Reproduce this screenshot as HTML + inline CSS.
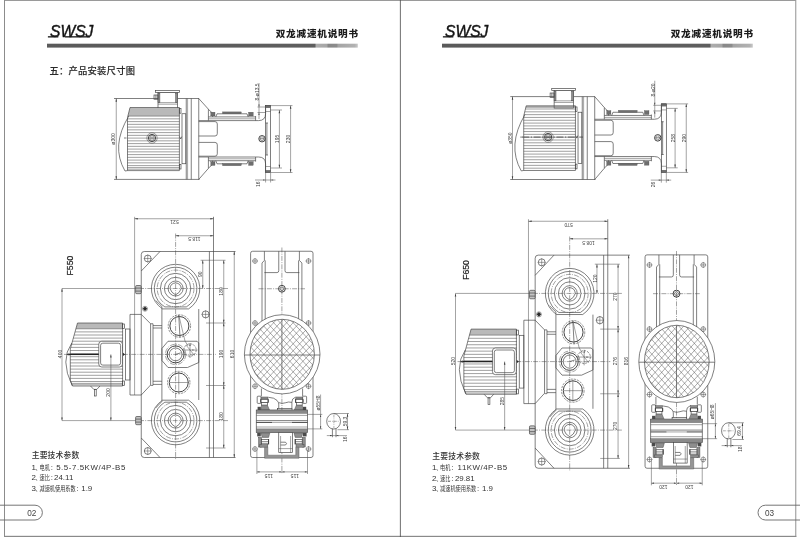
<!DOCTYPE html>
<html lang="zh-CN">
<head>
<meta charset="utf-8">
<title>双龙减速机说明书</title>
<style>
html,body{margin:0;padding:0;background:#fff}
body{width:800px;height:537px;overflow:hidden;font-family:"Liberation Sans","Noto Sans CJK SC",sans-serif}
svg{display:block;filter:grayscale(1) blur(.3px)}
.l{fill:none;stroke:#444;stroke-width:.68}
.lw{fill:none;stroke:#3a3a3a;stroke-width:.95}
.lf{fill:#fff;stroke:#444;stroke-width:.68}
.t{fill:none;stroke:#505050;stroke-width:.52}
.c{fill:none;stroke:#484848;stroke-width:.5;stroke-dasharray:5 1.2 1 1.2}
.cm{fill:none;stroke:#3a3a3a;stroke-width:.8;stroke-dasharray:7 1.6 1.2 1.6}
.c2{fill:none;stroke:#484848;stroke-width:.45;stroke-dasharray:3 1 .8 1}
.d{fill:none;stroke:#444;stroke-width:.6;stroke-dasharray:2.2 1}
.m{fill:none;stroke:#585858;stroke-width:.5}
.fin{fill:none;stroke:#646464;stroke-width:.62}
.sh{fill:none;stroke:#222;stroke-width:1.3}
.ub{fill:#959595;stroke:#5a5a5a;stroke-width:.5}
.a{fill:#3c3c3c;stroke:none}
.k{fill:#2a2a2a;stroke:none}
.k2{fill:#6e6e6e;stroke:#444;stroke-width:.3}
.kh{fill:#8a8a8a;stroke:#555;stroke-width:.4}
.k3{fill:#808080;stroke:#444;stroke-width:.5}
.k4{fill:#8e8e8e;stroke:#4c4c4c;stroke-width:.5}
.k6{fill:#4a4a4a;stroke:none}
.k5{fill:#c4c4c4;stroke:none}
.g1{fill:#b9b9b9;stroke:none}
.pill{fill:none;stroke:#666;stroke-width:.9}
text{font-family:"Liberation Sans","Noto Sans CJK SC",sans-serif;fill:#222}
.dt{fill:#444;font-family:"Liberation Sans",sans-serif}
.logo{font-size:17.4px;font-style:italic;font-weight:400;fill:#141414;stroke:#141414;stroke-width:.45}
.ttl{font-size:9.6px;font-weight:900;fill:#1c1c1c}
.sec{font-size:9.3px;font-weight:500;fill:#2a2a2a;stroke:#2a2a2a;stroke-width:.12}
text.sh{font-size:7.8px;font-weight:500;fill:#333;stroke:none}
.sp{fill:#333}
.la{font-size:7.9px}
.cn{font-size:6.3px}
.lat{letter-spacing:.62px}
.pn{font-size:8.2px;fill:#444}
.fm{font-size:8.6px;fill:#222;font-weight:500;stroke:#222;stroke-width:.2}
</style>
</head>
<body>
<svg width="800" height="537" viewBox="0 0 800 537">
<defs><linearGradient id="bar" x1="0" x2="1" y1="0" y2="0"><stop offset="0" stop-color="#5a5a5a"/><stop offset="0.862" stop-color="#5e5e5e"/><stop offset="0.866" stop-color="#adadad"/><stop offset="0.9" stop-color="#a6a6a6"/><stop offset="0.905" stop-color="#888"/><stop offset="0.932" stop-color="#8c8c8c"/><stop offset="0.937" stop-color="#a4a4a4"/><stop offset="0.99" stop-color="#b2b2b2"/><stop offset="1" stop-color="#c8c8c8"/></linearGradient></defs>
<rect width="800" height="537" fill="#fff"/>
<rect x="4" y="0" width="792" height="1" fill="#9a9a9a"/>
<rect x="4" y="0" width="1" height="537" fill="#8c8c8c"/>
<rect x="795.2" y="0" width="1.1" height="537" fill="#9c9c9c"/>
<rect x="4" y="535.8" width="792.3" height="1.2" fill="#8a8a8a"/>
<rect x="399.9" y="0" width="0.8" height="537" fill="#4a4a4a"/>
<path class="pill" d="M0 505.2 L35 505.2 A7.4 7.4 0 0 1 35 520 L0 520"/>
<path class="pill" d="M800 505.2 L765.4 505.2 A7.4 7.4 0 0 0 765.4 520 L800 520"/>
<text class="pn" x="31.8" y="515.6" text-anchor="middle">02</text>
<text class="pn" x="769.6" y="515.6" text-anchor="middle">03</text>
<text class="logo" x="50" y="37" textLength="43.4" lengthAdjust="spacingAndGlyphs">SWSJ</text>
<rect x="47.9" y="36.2" width="10.4" height="1.3" fill="#161616"/>
<rect x="65" y="36.2" width="25" height="1.3" fill="#161616"/>
<rect x="47" y="43.7" width="310.8" height="3.9" fill="url(#bar)"/>
<text class="ttl" x="275.7" y="37.4" textLength="82.4" lengthAdjust="spacing">双龙减速机说明书</text>
<text class="logo" x="445" y="37" textLength="43.4" lengthAdjust="spacingAndGlyphs">SWSJ</text>
<rect x="442.9" y="36.2" width="10.4" height="1.3" fill="#161616"/>
<rect x="460" y="36.2" width="25" height="1.3" fill="#161616"/>
<rect x="442" y="43.7" width="310.8" height="3.9" fill="url(#bar)"/>
<text class="ttl" x="670.7" y="37.4" textLength="82.4" lengthAdjust="spacing">双龙减速机说明书</text>
<text class="sec" x="49.4" y="74.4" textLength="85.6" lengthAdjust="spacing">五：产品安装尺寸图</text>
<text class="sh" x="31.7" y="458.1" textLength="47.6" lengthAdjust="spacing">主要技术参数</text>
<text class="sp" y="469.7"><tspan class="la" x="31.5">1</tspan><tspan class="cn" x="35.3">、</tspan><tspan class="cn" x="39.5" textLength="10.32" lengthAdjust="spacingAndGlyphs">电机</tspan><tspan class="la" x="50.72">:</tspan><tspan class="la" letter-spacing="0.55" x="53.45"> 5.5-7.5KW/4P-B5</tspan></text>
<text class="sp" y="480.12"><tspan class="la" x="31.5">2</tspan><tspan class="cn" x="35.3">、</tspan><tspan class="cn" x="39.5" textLength="10.32" lengthAdjust="spacingAndGlyphs">速比</tspan><tspan class="la" x="50.72">:</tspan><tspan class="la" letter-spacing="0.05" x="51.75"> 24.11</tspan></text>
<text class="sp" y="490.54"><tspan class="la" x="31.5">3</tspan><tspan class="cn" x="35.3">、</tspan><tspan class="cn" x="39.5" textLength="36.12" lengthAdjust="spacingAndGlyphs">减速机使用系数</tspan><tspan class="la" x="76.52">:</tspan><tspan class="la" letter-spacing="0" x="79.1"> 1.9</tspan></text>
<text class="sh" x="432.3" y="458.7" textLength="47.6" lengthAdjust="spacing">主要技术参数</text>
<text class="sp" y="470.3"><tspan class="la" x="432.1">1</tspan><tspan class="cn" x="435.9">、</tspan><tspan class="cn" x="440.1" textLength="10.32" lengthAdjust="spacingAndGlyphs">电机</tspan><tspan class="la" x="451.32">:</tspan><tspan class="la" letter-spacing="0.5" x="454.9"> 11KW/4P-B5</tspan></text>
<text class="sp" y="480.72"><tspan class="la" x="432.1">2</tspan><tspan class="cn" x="435.9">、</tspan><tspan class="cn" x="440.1" textLength="10.32" lengthAdjust="spacingAndGlyphs">速比</tspan><tspan class="la" x="451.32">:</tspan><tspan class="la" letter-spacing="0" x="452.7"> 29.81</tspan></text>
<text class="sp" y="491.14"><tspan class="la" x="432.1">3</tspan><tspan class="cn" x="435.9">、</tspan><tspan class="cn" x="440.1" textLength="36.12" lengthAdjust="spacingAndGlyphs">减速机使用系数</tspan><tspan class="la" x="477.12">:</tspan><tspan class="la" letter-spacing="0" x="479.7"> 1.9</tspan></text>
<text class="fm" transform="translate(73.2 265.6) rotate(-90)" text-anchor="middle">F550</text>
<text class="fm" transform="translate(468.6 270) rotate(-90)" text-anchor="middle">F650</text>
<line class="l" x1="114" y1="98.5" x2="199" y2="98.5"/>
<line class="l" x1="114" y1="179.4" x2="199.5" y2="179.4"/>
<line class="t" x1="116.25" y1="98.5" x2="116.25" y2="179.4"/>
<path class="a" d="M116.25 98.5 L115.5 101.7 L117 101.7 Z"/>
<path class="a" d="M116.25 179.4 L115.5 176.2 L117 176.2 Z"/>
<text class="dt" font-size="6.2" transform="translate(113.2 139) rotate(-90)" x="-5.65" textLength="11.3" lengthAdjust="spacingAndGlyphs" dy="0.35em">ø300</text>
<rect class="l" x="155.6" y="90.6" width="23.8" height="1.9"/>
<rect class="lf" x="158" y="92.5" width="19.5" height="17.2"/>
<rect class="k4" x="158" y="93.2" width="1.9" height="9.4"/>
<rect class="k4" x="175.6" y="93.2" width="1.9" height="9.4"/>
<line class="t" x1="158" y1="102.6" x2="177.5" y2="102.6"/>
<line class="t" x1="158" y1="104.2" x2="177.5" y2="104.2"/>
<rect class="l" x="154" y="95" width="4" height="4.2"/>
<line class="t" x1="155.4" y1="95" x2="155.4" y2="99.2"/>
<line class="t" x1="156.8" y1="95" x2="156.8" y2="99.2"/>
<clipPath id="mca"><path d="M130 107.5 L179.4 107.5 L179.4 170.6 L127.5 170.6 L127.5 117.5Z"/></clipPath>
<g clip-path="url(#mca)">
<rect class="g1" x="126" y="107.5" width="55" height="8.6"/>
<line class="fin" x1="126" y1="167.6" x2="180" y2="167.6"/>
<line class="fin" x1="126" y1="169.2" x2="180" y2="169.2"/>
<line class="fin" x1="126" y1="116.1" x2="180" y2="116.1"/>
<line class="fin" x1="126" y1="118.85" x2="180" y2="118.85"/>
<line class="fin" x1="126" y1="121.6" x2="180" y2="121.6"/>
<line class="fin" x1="126" y1="124.35" x2="180" y2="124.35"/>
<line class="fin" x1="126" y1="127.1" x2="180" y2="127.1"/>
<line class="fin" x1="126" y1="129.85" x2="180" y2="129.85"/>
<line class="fin" x1="126" y1="132.6" x2="180" y2="132.6"/>
<line class="fin" x1="126" y1="135.35" x2="180" y2="135.35"/>
<line class="fin" x1="126" y1="138.1" x2="180" y2="138.1"/>
<line class="fin" x1="126" y1="140.85" x2="180" y2="140.85"/>
<line class="fin" x1="126" y1="143.6" x2="180" y2="143.6"/>
<line class="fin" x1="126" y1="146.35" x2="180" y2="146.35"/>
<line class="fin" x1="126" y1="149.1" x2="180" y2="149.1"/>
<line class="fin" x1="126" y1="151.85" x2="180" y2="151.85"/>
<line class="fin" x1="126" y1="154.6" x2="180" y2="154.6"/>
<line class="fin" x1="126" y1="157.35" x2="180" y2="157.35"/>
<line class="fin" x1="126" y1="160.1" x2="180" y2="160.1"/>
<line class="fin" x1="126" y1="162.85" x2="180" y2="162.85"/>
<line class="fin" x1="126" y1="165.6" x2="180" y2="165.6"/>
</g>
<path class="l" d="M130 107.5 L179.4 107.5 L179.4 170.6 L127.5 170.6 L127.5 117.5Z"/>
<path class="l" d="M 128.8 116 Q 110.5 146 125 171"/>
<line class="l" x1="125" y1="171" x2="127.5" y2="170.6"/>
<ellipse class="t" cx="152" cy="138" rx="5.2" ry="5.2"/>
<ellipse class="lw" cx="152" cy="138" rx="3.6" ry="3.6"/>
<ellipse class="t" cx="152" cy="138" rx="2.2" ry="2.2"/>
<line class="l" x1="150.5" y1="138" x2="153.5" y2="138"/>
<line class="l" x1="124" y1="138" x2="126.5" y2="138"/>
<rect class="l" x="179.4" y="108.6" width="1.6" height="4.6"/>
<rect class="l" x="179.4" y="164.4" width="1.6" height="4.6"/>
<rect class="l" x="182" y="113.75" width="3.8" height="50"/>
<path class="l" d="M179.6 136.6 L180.7 139 L181.8 136.6"/>
<line class="l" x1="186.25" y1="98.5" x2="186.25" y2="179.4"/>
<line class="t" x1="187.6" y1="98.5" x2="187.6" y2="179.4"/>
<line class="l" x1="191.25" y1="98.5" x2="191.25" y2="179.4"/>
<line class="l" x1="198.75" y1="98.5" x2="198.75" y2="179.4"/>
<path class="l" d="M198.75 98.5 L208.4 109.2 L208.4 120.6"/>
<path class="l" d="M198.75 179.4 L208.4 168.4 L208.4 157"/>
<path class="l" d="M 198.75 120.6 L 258.5 120.6 Q 265.6 120.6 265.6 113.5 L 265.6 105.6"/>
<path class="l" d="M 198.75 157 L 258.5 157 Q 265.6 157 265.6 164 L 265.6 172.5"/>
<path class="l" d="M 198.75 121.6 L 215 121.6 Q 217.3 121.6 217.3 124 L 217.3 133.6 Q 217.3 136 215 136 L 198.75 136"/>
<path class="l" d="M 198.75 142.4 L 215 142.4 Q 217.3 142.4 217.3 144.8 L 217.3 153.8 Q 217.3 156.2 215 156.2 L 198.75 156.2"/>
<line class="l" x1="208.4" y1="116.9" x2="255.6" y2="116.9"/>
<line class="l" x1="255.6" y1="116" x2="255.6" y2="120.6"/>
<line class="l" x1="217" y1="113.8" x2="247" y2="113.8"/>
<path class="l" d="M208.4 109.4 L212.6 113.2 L212.6 116.9"/>
<path class="l" d="M217 113.8 L215.8 116.9"/>
<path class="l" d="M247 113.8 L248.2 116.9"/>
<rect class="k2" x="222.5" y="111.9" width="18.8" height="1.9"/>
<rect class="k2" x="210.8" y="112.2" width="4.2" height="3.8"/>
<rect class="k2" x="248.6" y="112.2" width="4.6" height="3.8"/>
<line class="t" x1="208.4" y1="118.8" x2="255.6" y2="118.8"/>
<line class="l" x1="208.4" y1="160.7" x2="255.6" y2="160.7"/>
<line class="l" x1="255.6" y1="161.6" x2="255.6" y2="157"/>
<line class="l" x1="217" y1="163.8" x2="247" y2="163.8"/>
<path class="l" d="M208.4 168.2 L212.6 164.4 L212.6 160.7"/>
<path class="l" d="M217 163.8 L215.8 160.7"/>
<path class="l" d="M247 163.8 L248.2 160.7"/>
<rect class="k2" x="222.5" y="163.8" width="18.8" height="1.9"/>
<rect class="k2" x="210.8" y="161.6" width="4.2" height="3.8"/>
<rect class="k2" x="248.6" y="161.6" width="4.6" height="3.8"/>
<line class="t" x1="208.4" y1="158.8" x2="255.6" y2="158.8"/>
<rect class="l" x="265.6" y="105.6" width="5" height="66.9"/>
<rect class="k2" x="265.6" y="105.6" width="5" height="2.2"/>
<rect class="k2" x="265.6" y="170.3" width="5" height="2.2"/>
<line class="l" x1="266.9" y1="123" x2="266.9" y2="155"/>
<line class="l" x1="265.6" y1="123" x2="268" y2="123"/>
<line class="l" x1="265.6" y1="155" x2="268" y2="155"/>
<line class="t" x1="265.6" y1="111.5" x2="270.6" y2="111.5"/>
<line class="t" x1="265.6" y1="166.5" x2="270.6" y2="166.5"/>
<ellipse class="lw" cx="262" cy="138.75" rx="3.2" ry="3.2"/>
<ellipse class="t" cx="262" cy="138.75" rx="1.9" ry="1.9"/>
<line class="l" x1="259.6" y1="138.75" x2="264.4" y2="138.75"/>
<line class="t" x1="259" y1="83" x2="259" y2="119"/>
<path class="a" d="M259 107 L258.4 104.4 L259.6 104.4 Z"/>
<path class="a" d="M259 112.5 L258.4 115.1 L259.6 115.1 Z"/>
<line class="t" x1="257.5" y1="107" x2="266" y2="107"/>
<line class="t" x1="257.5" y1="112.5" x2="266" y2="112.5"/>
<text class="dt" font-size="6.2" transform="translate(256.6 92) rotate(-90)" x="-8.55" textLength="17.09" lengthAdjust="spacingAndGlyphs" dy="0.35em">8-ø13.5</text>
<line class="t" x1="270.6" y1="110" x2="282" y2="110"/>
<line class="t" x1="270.6" y1="168" x2="282" y2="168"/>
<line class="t" x1="279.4" y1="110" x2="279.4" y2="168"/>
<path class="a" d="M279.4 110 L278.65 113.2 L280.15 113.2 Z"/>
<path class="a" d="M279.4 168 L278.65 164.8 L280.15 164.8 Z"/>
<text class="dt" font-size="6.2" transform="translate(277 139) rotate(-90)" x="-4.14" textLength="8.27" lengthAdjust="spacingAndGlyphs" dy="0.35em">195</text>
<line class="t" x1="265.6" y1="105.6" x2="292.5" y2="105.6"/>
<line class="t" x1="270.6" y1="172.5" x2="292.5" y2="172.5"/>
<line class="t" x1="290.6" y1="105.6" x2="290.6" y2="172.5"/>
<path class="a" d="M290.6 105.6 L289.85 108.8 L291.35 108.8 Z"/>
<path class="a" d="M290.6 172.5 L289.85 169.3 L291.35 169.3 Z"/>
<text class="dt" font-size="6.2" transform="translate(288.2 139) rotate(-90)" x="-4.14" textLength="8.27" lengthAdjust="spacingAndGlyphs" dy="0.35em">230</text>
<line class="t" x1="265.6" y1="172.5" x2="265.6" y2="182.5"/>
<line class="t" x1="270.6" y1="172.5" x2="270.6" y2="182.5"/>
<line class="t" x1="255" y1="180" x2="275.5" y2="180"/>
<path class="a" d="M265.6 180 L263 179.4 L263 180.6 Z"/>
<path class="a" d="M270.6 180 L273.2 179.4 L273.2 180.6 Z"/>
<text class="dt" font-size="6.2" transform="translate(257.5 184.2) rotate(-90)" x="-2.76" textLength="5.52" lengthAdjust="spacingAndGlyphs" dy="0.35em">16</text>
<line class="t" x1="134.6" y1="216.8" x2="134.6" y2="395"/>
<line class="l" x1="213.5" y1="216.8" x2="213.5" y2="457.5"/>
<line class="t" x1="134.6" y1="218.75" x2="213.5" y2="218.75"/>
<path class="a" d="M134.6 218.75 L137.8 218 L137.8 219.5 Z"/>
<path class="a" d="M213.5 218.75 L210.3 218 L210.3 219.5 Z"/>
<text class="dt" font-size="6.2" transform="translate(174.5 222.6) rotate(180)" x="-4.14" textLength="8.27" lengthAdjust="spacingAndGlyphs" dy="0.35em">521</text>
<line class="c" x1="175.6" y1="233.5" x2="175.6" y2="459.5"/>
<line class="t" x1="175.6" y1="235.75" x2="213.5" y2="235.75"/>
<path class="a" d="M175.6 235.75 L178.8 235 L178.8 236.5 Z"/>
<path class="a" d="M213.5 235.75 L210.3 235 L210.3 236.5 Z"/>
<text class="dt" font-size="6.2" transform="translate(194.3 239.6) rotate(180)" x="-6.2" textLength="12.41" lengthAdjust="spacingAndGlyphs" dy="0.35em">118.5</text>
<path class="l" d="M 235.5 251.5 L 144.25 251.5 Q 141.25 251.5 141.25 254.5 L 141.25 454.5 Q 141.25 457.5 144.25 457.5 L 235.5 457.5"/>
<line class="l" x1="209.4" y1="251.5" x2="209.4" y2="457.5"/>
<line class="l" x1="198.75" y1="309" x2="198.75" y2="400"/>
<line class="l" x1="141.25" y1="271" x2="160" y2="251.5"/>
<line class="l" x1="141.25" y1="438" x2="160" y2="457.5"/>
<ellipse class="l" cx="147.75" cy="258.5" rx="3.4" ry="3.4"/>
<line class="t" x1="143.85" y1="258.5" x2="151.65" y2="258.5"/>
<line class="t" x1="147.75" y1="254.6" x2="147.75" y2="262.4"/>
<ellipse class="l" cx="147.75" cy="451" rx="3.4" ry="3.4"/>
<line class="t" x1="143.85" y1="451" x2="151.65" y2="451"/>
<line class="t" x1="147.75" y1="447.1" x2="147.75" y2="454.9"/>
<ellipse class="l" cx="205.6" cy="314.4" rx="3.5" ry="3.5"/>
<line class="t" x1="201.6" y1="314.4" x2="209.6" y2="314.4"/>
<line class="t" x1="205.6" y1="310.4" x2="205.6" y2="318.4"/>
<line class="t" x1="234.25" y1="251.5" x2="234.25" y2="457.5"/>
<path class="a" d="M234.25 251.5 L233.5 254.7 L235 254.7 Z"/>
<path class="a" d="M234.25 457.5 L233.5 454.3 L235 454.3 Z"/>
<text class="dt" font-size="6.2" transform="translate(231.6 354) rotate(-90)" x="-4.14" textLength="8.27" lengthAdjust="spacingAndGlyphs" dy="0.35em">610</text>
<line class="t" x1="200.6" y1="260.25" x2="225.5" y2="260.25"/>
<line class="t" x1="206" y1="323" x2="225.5" y2="323"/>
<line class="t" x1="206" y1="385.5" x2="225.5" y2="385.5"/>
<line class="t" x1="206" y1="448" x2="225.5" y2="448"/>
<line class="t" x1="223.75" y1="260.25" x2="223.75" y2="448"/>
<path class="a" d="M223.75 260.25 L223 263.45 L224.5 263.45 Z"/>
<path class="a" d="M223.75 323 L223 319.8 L224.5 319.8 Z"/>
<path class="a" d="M223.75 323 L223 326.2 L224.5 326.2 Z"/>
<path class="a" d="M223.75 385.5 L223 382.3 L224.5 382.3 Z"/>
<path class="a" d="M223.75 385.5 L223 388.7 L224.5 388.7 Z"/>
<path class="a" d="M223.75 448 L223 444.8 L224.5 444.8 Z"/>
<text class="dt" font-size="6.2" transform="translate(220.8 291.5) rotate(-90)" x="-4.14" textLength="8.27" lengthAdjust="spacingAndGlyphs" dy="0.35em">180</text>
<text class="dt" font-size="6.2" transform="translate(220.8 354) rotate(-90)" x="-4.14" textLength="8.27" lengthAdjust="spacingAndGlyphs" dy="0.35em">190</text>
<text class="dt" font-size="6.2" transform="translate(220.8 416.5) rotate(-90)" x="-4.14" textLength="8.27" lengthAdjust="spacingAndGlyphs" dy="0.35em">180</text>
<line class="t" x1="202.75" y1="260.25" x2="202.75" y2="288.5"/>
<path class="a" d="M202.75 260.25 L202 263.45 L203.5 263.45 Z"/>
<path class="a" d="M202.75 288.5 L202 285.3 L203.5 285.3 Z"/>
<text class="dt" font-size="6.2" transform="translate(200.2 274.2) rotate(-90)" x="-2.76" textLength="5.52" lengthAdjust="spacingAndGlyphs" dy="0.35em">90</text>
<line class="t" x1="62" y1="288.5" x2="136" y2="288.5"/>
<line class="c" x1="139" y1="288.5" x2="228" y2="288.5"/>
<line class="t" x1="62" y1="420.6" x2="136" y2="420.6"/>
<line class="c" x1="139" y1="420.6" x2="228" y2="420.6"/>
<line class="c" x1="64" y1="354.4" x2="216" y2="354.4"/>
<line class="t" x1="62" y1="288.5" x2="62" y2="420.6"/>
<path class="a" d="M62 288.5 L61.25 291.7 L62.75 291.7 Z"/>
<path class="a" d="M62 420.6 L61.25 417.4 L62.75 417.4 Z"/>
<text class="dt" font-size="6.2" transform="translate(59.4 354) rotate(-90)" x="-4.14" textLength="8.27" lengthAdjust="spacingAndGlyphs" dy="0.35em">400</text>
<path class="l" d="M 162.58 308.9 A 24.2 24.2 0 1 1 188.62 308.9 Z"/>
<path class="l" d="M 164.87 306.9 A 21.3 21.3 0 1 1 186.33 306.9 Z"/>
<ellipse class="c" cx="175.6" cy="288.5" rx="18.4" ry="18.4"/>
<ellipse class="l" cx="175.6" cy="288.5" rx="15.2" ry="15.2"/>
<ellipse class="l" cx="175.6" cy="288.5" rx="11.2" ry="11.2"/>
<ellipse class="l" cx="175.6" cy="288.5" rx="7.5" ry="7.5"/>
<path class="l" d="M 170 288.5 Q 170.4 283.3 175.6 282.9 Q 180.8 283.3 181.2 288.5 Q 180 292.9 175.6 294.9 Q 171.2 292.9 170 288.5 Z"/>
<path class="l" d="M 162.58 400.2 A 24.2 24.2 0 1 0 188.62 400.2 Z"/>
<path class="l" d="M 164.87 402.2 A 21.3 21.3 0 1 0 186.33 402.2 Z"/>
<ellipse class="c" cx="175.6" cy="420.6" rx="18.4" ry="18.4"/>
<ellipse class="l" cx="175.6" cy="420.6" rx="15.2" ry="15.2"/>
<ellipse class="l" cx="175.6" cy="420.6" rx="11.2" ry="11.2"/>
<ellipse class="l" cx="175.6" cy="420.6" rx="7.5" ry="7.5"/>
<path class="l" d="M 170 420.6 Q 170.4 415.4 175.6 415 Q 180.8 415.4 181.2 420.6 Q 180 425 175.6 427 Q 171.2 425 170 420.6 Z"/>
<rect class="k5" x="135.6" y="285.5" width="5.6" height="8.2"/>
<line class="l" x1="135.6" y1="288.1" x2="141.2" y2="288.1"/>
<line class="l" x1="135.6" y1="291.1" x2="141.2" y2="291.1"/>
<rect class="l" x="135.6" y="285.5" width="5.6" height="8.2" rx="1.2"/>
<rect class="k5" x="135.6" y="416.5" width="5.6" height="8.2"/>
<line class="l" x1="135.6" y1="419.1" x2="141.2" y2="419.1"/>
<line class="l" x1="135.6" y1="422.1" x2="141.2" y2="422.1"/>
<rect class="l" x="135.6" y="416.5" width="5.6" height="8.2" rx="1.2"/>
<ellipse class="t" cx="145" cy="308.75" rx="2.5" ry="2.5"/>
<path class="k" d="M145 306.4 L147.3 308.75 L145 311.1 L142.7 308.75Z"/>
<path class="l" d="M155.6 300.5 L161.9 306.5 L161.9 401.5 L155.6 408"/>
<path class="l" d="M141.25 314.4 L130 314.4 L130 395 L141.25 395"/>
<path class="l" d="M141.25 314.4 L150.6 323.75 L150.6 385 L141.25 395"/>
<line class="l" x1="153" y1="323.75" x2="153" y2="385.4"/>
<line class="l" x1="150.6" y1="323.75" x2="153" y2="323.75"/>
<line class="l" x1="150.6" y1="385.4" x2="153" y2="385.4"/>
<line class="l" x1="153" y1="325.6" x2="161.9" y2="325.6"/>
<line class="l" x1="153" y1="328" x2="161.9" y2="328"/>
<line class="l" x1="153" y1="381.25" x2="161.9" y2="381.25"/>
<line class="l" x1="153" y1="384.4" x2="161.9" y2="384.4"/>
<ellipse class="lw" cx="179.4" cy="326" rx="9.5" ry="9.5"/>
<ellipse class="d" cx="179.4" cy="326" rx="11.2" ry="11.2"/>
<line class="l" x1="178.75" y1="315" x2="180" y2="337.5"/>
<path class="t" d="M178.75 315 L185 341 L188 346"/>
<path class="l" d="M168 341.25 L197 341.25 L198.75 343 L198.75 362.5 L187.5 367.5 L168 367.5 L161.9 360.5 L161.9 348.5Z"/>
<ellipse class="c" cx="175.6" cy="354.4" rx="10.2" ry="10.2"/>
<ellipse class="lw" cx="175.6" cy="354.4" rx="8.5" ry="8.5"/>
<ellipse class="l" cx="175.6" cy="354.4" rx="6.4" ry="6.4"/>
<line class="l" x1="175.6" y1="354.4" x2="180.6" y2="352.9"/>
<ellipse class="d" cx="190" cy="350" rx="6.2" ry="6.2"/>
<line class="t" x1="182.5" y1="350" x2="197.5" y2="350"/>
<line class="t" x1="190" y1="343" x2="190" y2="358"/>
<line class="t" x1="186" y1="345" x2="194.5" y2="355.5"/>
<path class="a" d="M194.6 350 L192.2 349.4 L192.2 350.6 Z"/>
<path class="a" d="M190 343.6 L189.4 346 L190.6 346 Z"/>
<ellipse class="lw" cx="178.75" cy="382.5" rx="9.5" ry="9.5"/>
<ellipse class="d" cx="178.75" cy="382.5" rx="11.2" ry="11.2"/>
<line class="t" x1="170" y1="382.5" x2="189" y2="382.5"/>
<line class="t" x1="178.75" y1="372" x2="178.75" y2="393"/>
<clipPath id="fma"><path d="M77.5 323 L123 323 L123 386 L72.5 386 L70.3 380.5 L70.3 349Z"/></clipPath>
<g clip-path="url(#fma)">
<rect class="g1" x="68" y="323" width="58" height="5.8"/>
<line class="fin" x1="68" y1="383.4" x2="124" y2="383.4"/>
<line class="fin" x1="68" y1="384.8" x2="124" y2="384.8"/>
<line class="fin" x1="68" y1="328.8" x2="124" y2="328.8"/>
<line class="fin" x1="68" y1="331.9" x2="124" y2="331.9"/>
<line class="fin" x1="68" y1="335" x2="124" y2="335"/>
<line class="fin" x1="68" y1="338.1" x2="124" y2="338.1"/>
<line class="fin" x1="68" y1="341.2" x2="124" y2="341.2"/>
<line class="fin" x1="68" y1="344.3" x2="124" y2="344.3"/>
<line class="fin" x1="68" y1="347.4" x2="124" y2="347.4"/>
<line class="fin" x1="68" y1="350.5" x2="124" y2="350.5"/>
<line class="fin" x1="68" y1="353.6" x2="124" y2="353.6"/>
<line class="fin" x1="68" y1="356.7" x2="124" y2="356.7"/>
<line class="fin" x1="68" y1="359.8" x2="124" y2="359.8"/>
<line class="fin" x1="68" y1="362.9" x2="124" y2="362.9"/>
<line class="fin" x1="68" y1="366" x2="124" y2="366"/>
<line class="fin" x1="68" y1="369.1" x2="124" y2="369.1"/>
<line class="fin" x1="68" y1="372.2" x2="124" y2="372.2"/>
<line class="fin" x1="68" y1="375.3" x2="124" y2="375.3"/>
<line class="fin" x1="68" y1="378.4" x2="124" y2="378.4"/>
<line class="fin" x1="68" y1="381.5" x2="124" y2="381.5"/>
</g>
<path class="l" d="M77.5 323 L122.6 323 L122.6 386 L72.5 386 L70.3 380.5 L70.3 349Z"/>
<path class="l" d="M 71.8 343 Q 59.6 360 72.2 385.6"/>
<rect class="lf" x="98.75" y="341.25" width="23.75" height="25.75" rx="3"/>
<rect class="l" x="100.6" y="343.2" width="20" height="21.9" rx="2.2"/>
<line class="sh" x1="67.5" y1="354.4" x2="98.75" y2="354.4"/>
<path class="a" d="M66.4 354.4 L69.4 353.4 L69.4 355.4 Z"/>
<rect class="l" x="122.6" y="324" width="2" height="4.6"/>
<rect class="l" x="122.6" y="381" width="2" height="4.6"/>
<rect class="l" x="125.4" y="329" width="4.6" height="51"/>
<path class="k" d="M123 352.8 L125 354.4 L123 356Z"/>
<path class="l" d="M90.5 386 L93.8 389.4 L96.8 389.4 L100 386"/>
<rect class="l" x="94.4" y="389.4" width="1.8" height="6.6"/>
<line class="t" x1="110.9" y1="354.4" x2="110.9" y2="420.6"/>
<path class="a" d="M110.9 354.4 L110.15 357.6 L111.65 357.6 Z"/>
<path class="a" d="M110.9 420.6 L110.15 417.4 L111.65 417.4 Z"/>
<text class="dt" font-size="6.2" transform="translate(108.2 392.5) rotate(-90)" x="-4.14" textLength="8.27" lengthAdjust="spacingAndGlyphs" dy="0.35em">200</text>
<rect class="l" x="250.6" y="251.25" width="62.4" height="206.25" rx="2"/>
<ellipse class="t" cx="255" cy="261" rx="2.3" ry="2.3"/>
<line class="t" x1="252.1" y1="261" x2="257.9" y2="261"/>
<line class="t" x1="255" y1="258.1" x2="255" y2="263.9"/>
<ellipse class="t" cx="308.5" cy="261" rx="2.3" ry="2.3"/>
<line class="t" x1="305.6" y1="261" x2="311.4" y2="261"/>
<line class="t" x1="308.5" y1="258.1" x2="308.5" y2="263.9"/>
<ellipse class="t" cx="255" cy="323" rx="2.3" ry="2.3"/>
<line class="t" x1="252.1" y1="323" x2="257.9" y2="323"/>
<line class="t" x1="255" y1="320.1" x2="255" y2="325.9"/>
<ellipse class="t" cx="308.5" cy="323" rx="2.3" ry="2.3"/>
<line class="t" x1="305.6" y1="323" x2="311.4" y2="323"/>
<line class="t" x1="308.5" y1="320.1" x2="308.5" y2="325.9"/>
<ellipse class="t" cx="255" cy="386.25" rx="2.3" ry="2.3"/>
<line class="t" x1="252.1" y1="386.25" x2="257.9" y2="386.25"/>
<line class="t" x1="255" y1="383.35" x2="255" y2="389.15"/>
<ellipse class="t" cx="308.5" cy="386.25" rx="2.3" ry="2.3"/>
<line class="t" x1="305.6" y1="386.25" x2="311.4" y2="386.25"/>
<line class="t" x1="308.5" y1="383.35" x2="308.5" y2="389.15"/>
<ellipse class="t" cx="255" cy="449" rx="2.3" ry="2.3"/>
<line class="t" x1="252.1" y1="449" x2="257.9" y2="449"/>
<line class="t" x1="255" y1="446.1" x2="255" y2="451.9"/>
<ellipse class="t" cx="308.5" cy="449" rx="2.3" ry="2.3"/>
<line class="t" x1="305.6" y1="449" x2="311.4" y2="449"/>
<line class="t" x1="308.5" y1="446.1" x2="308.5" y2="451.9"/>
<line class="c" x1="281.9" y1="247.5" x2="281.9" y2="474"/>
<path class="l" d="M264.4 251.25 L264.4 260.4 L262 263 L262 323"/>
<path class="l" d="M299.4 251.25 L299.4 260.4 L301.9 263 L301.9 323"/>
<line class="l" x1="265.2" y1="260.4" x2="265.2" y2="320"/>
<line class="l" x1="298.6" y1="260.4" x2="298.6" y2="320"/>
<path class="l" d="M 264.4 272.6 L 277 272.6 Q 278.75 272.6 278.75 270.6 L 278.75 251.25"/>
<path class="l" d="M 299.4 272.6 L 286.8 272.6 Q 285 272.6 285 270.6 L 285 251.25"/>
<line class="c" x1="258.5" y1="288.75" x2="305" y2="288.75"/>
<ellipse class="lw" cx="281.9" cy="288.75" rx="3.4" ry="3.4"/>
<ellipse class="l" cx="281.9" cy="288.75" rx="1.8" ry="1.8"/>
<ellipse class="lf" cx="282.2" cy="354.3" rx="37.8" ry="39.6"/>
<clipPath id="mesha"><ellipse cx="282.2" cy="354.3" rx="32.2" ry="35"/></clipPath>
<g clip-path="url(#mesha)">
<line class="m" x1="152.4" y1="311.1" x2="232.4" y2="397.5"/>
<line class="m" x1="232.4" y1="311.1" x2="152.4" y2="397.5"/>
<line class="m" x1="158.9" y1="311.1" x2="238.9" y2="397.5"/>
<line class="m" x1="238.9" y1="311.1" x2="158.9" y2="397.5"/>
<line class="m" x1="165.4" y1="311.1" x2="245.4" y2="397.5"/>
<line class="m" x1="245.4" y1="311.1" x2="165.4" y2="397.5"/>
<line class="m" x1="171.9" y1="311.1" x2="251.9" y2="397.5"/>
<line class="m" x1="251.9" y1="311.1" x2="171.9" y2="397.5"/>
<line class="m" x1="178.4" y1="311.1" x2="258.4" y2="397.5"/>
<line class="m" x1="258.4" y1="311.1" x2="178.4" y2="397.5"/>
<line class="m" x1="184.9" y1="311.1" x2="264.9" y2="397.5"/>
<line class="m" x1="264.9" y1="311.1" x2="184.9" y2="397.5"/>
<line class="m" x1="191.4" y1="311.1" x2="271.4" y2="397.5"/>
<line class="m" x1="271.4" y1="311.1" x2="191.4" y2="397.5"/>
<line class="m" x1="197.9" y1="311.1" x2="277.9" y2="397.5"/>
<line class="m" x1="277.9" y1="311.1" x2="197.9" y2="397.5"/>
<line class="m" x1="204.4" y1="311.1" x2="284.4" y2="397.5"/>
<line class="m" x1="284.4" y1="311.1" x2="204.4" y2="397.5"/>
<line class="m" x1="210.9" y1="311.1" x2="290.9" y2="397.5"/>
<line class="m" x1="290.9" y1="311.1" x2="210.9" y2="397.5"/>
<line class="m" x1="217.4" y1="311.1" x2="297.4" y2="397.5"/>
<line class="m" x1="297.4" y1="311.1" x2="217.4" y2="397.5"/>
<line class="m" x1="223.9" y1="311.1" x2="303.9" y2="397.5"/>
<line class="m" x1="303.9" y1="311.1" x2="223.9" y2="397.5"/>
<line class="m" x1="230.4" y1="311.1" x2="310.4" y2="397.5"/>
<line class="m" x1="310.4" y1="311.1" x2="230.4" y2="397.5"/>
<line class="m" x1="236.9" y1="311.1" x2="316.9" y2="397.5"/>
<line class="m" x1="316.9" y1="311.1" x2="236.9" y2="397.5"/>
<line class="m" x1="243.4" y1="311.1" x2="323.4" y2="397.5"/>
<line class="m" x1="323.4" y1="311.1" x2="243.4" y2="397.5"/>
<line class="m" x1="249.9" y1="311.1" x2="329.9" y2="397.5"/>
<line class="m" x1="329.9" y1="311.1" x2="249.9" y2="397.5"/>
<line class="m" x1="256.4" y1="311.1" x2="336.4" y2="397.5"/>
<line class="m" x1="336.4" y1="311.1" x2="256.4" y2="397.5"/>
<line class="m" x1="262.9" y1="311.1" x2="342.9" y2="397.5"/>
<line class="m" x1="342.9" y1="311.1" x2="262.9" y2="397.5"/>
<line class="m" x1="269.4" y1="311.1" x2="349.4" y2="397.5"/>
<line class="m" x1="349.4" y1="311.1" x2="269.4" y2="397.5"/>
<line class="m" x1="275.9" y1="311.1" x2="355.9" y2="397.5"/>
<line class="m" x1="355.9" y1="311.1" x2="275.9" y2="397.5"/>
<line class="m" x1="282.4" y1="311.1" x2="362.4" y2="397.5"/>
<line class="m" x1="362.4" y1="311.1" x2="282.4" y2="397.5"/>
<line class="m" x1="288.9" y1="311.1" x2="368.9" y2="397.5"/>
<line class="m" x1="368.9" y1="311.1" x2="288.9" y2="397.5"/>
<line class="m" x1="295.4" y1="311.1" x2="375.4" y2="397.5"/>
<line class="m" x1="375.4" y1="311.1" x2="295.4" y2="397.5"/>
<line class="m" x1="301.9" y1="311.1" x2="381.9" y2="397.5"/>
<line class="m" x1="381.9" y1="311.1" x2="301.9" y2="397.5"/>
<line class="m" x1="308.4" y1="311.1" x2="388.4" y2="397.5"/>
<line class="m" x1="388.4" y1="311.1" x2="308.4" y2="397.5"/>
<line class="m" x1="314.9" y1="311.1" x2="394.9" y2="397.5"/>
<line class="m" x1="394.9" y1="311.1" x2="314.9" y2="397.5"/>
<line class="m" x1="321.4" y1="311.1" x2="401.4" y2="397.5"/>
<line class="m" x1="401.4" y1="311.1" x2="321.4" y2="397.5"/>
<line class="m" x1="327.9" y1="311.1" x2="407.9" y2="397.5"/>
<line class="m" x1="407.9" y1="311.1" x2="327.9" y2="397.5"/>
<line class="m" x1="334.4" y1="311.1" x2="414.4" y2="397.5"/>
<line class="m" x1="414.4" y1="311.1" x2="334.4" y2="397.5"/>
</g>
<ellipse class="l" cx="282.2" cy="354.3" rx="32.2" ry="35"/>
<line class="l" x1="244.4" y1="355" x2="320" y2="355"/>
<line class="l" x1="281.9" y1="319.4" x2="281.9" y2="389.4"/>
<line class="l" x1="261.4" y1="388.5" x2="261.4" y2="396"/>
<line class="l" x1="302.6" y1="388.5" x2="302.6" y2="396"/>
<path class="l" d="M 268.5 397.3 Q 274.5 397.6 277 400.4 Q 278.75 402.4 278.75 404 L 278.75 408.4"/>
<path class="l" d="M 295.3 397.3 Q 291.8 398.4 291.9 402 L 291.9 408.4"/>
<path class="l" d="M 278.75 402.6 Q 282 404.2 285.3 402.8 Q 288.6 401.4 291.9 402.4"/>
<rect class="l" x="277.5" y="408.4" width="14.5" height="1.8"/>
<rect class="lf" x="257.2" y="396.2" width="4" height="7.2" rx="0.8"/>
<rect class="k6" x="257.6" y="406.8" width="3.2" height="3.4"/>
<rect class="k4" x="261" y="397" width="7" height="2"/>
<rect class="lf" x="260.8" y="399.4" width="7.4" height="3.2"/>
<line class="lw" x1="260.9" y1="399.4" x2="260.9" y2="402.6"/>
<line class="lw" x1="268.1" y1="399.4" x2="268.1" y2="402.6"/>
<rect class="lf" x="261.6" y="402.6" width="5.8" height="2.6"/>
<path class="k4" d="M261.6 405.2 L267.4 405.2 L269.6 410.2 L260.6 410.2Z"/>
<rect class="k6" x="257.2" y="433" width="3.6" height="3.4"/>
<path class="k4" d="M261 433 L269.8 433 L268.6 437.4 L262.2 437.4Z"/>
<rect class="k4" x="258.6" y="437.4" width="3" height="9.6"/>
<rect class="lf" x="261.6" y="439.6" width="7" height="4.2"/>
<line class="l" x1="261.6" y1="441.7" x2="268.6" y2="441.7"/>
<line class="lw" x1="268.6" y1="439" x2="268.6" y2="444.4"/>
<rect class="k4" x="259.8" y="444.6" width="8" height="2.6"/>
<rect class="lf" x="302.6" y="396.2" width="4" height="7.2" rx="0.8"/>
<rect class="k6" x="303" y="406.8" width="3.2" height="3.4"/>
<rect class="k4" x="295.8" y="397" width="7" height="2"/>
<rect class="lf" x="295.6" y="399.4" width="7.4" height="3.2"/>
<line class="lw" x1="302.9" y1="399.4" x2="302.9" y2="402.6"/>
<line class="lw" x1="295.7" y1="399.4" x2="295.7" y2="402.6"/>
<rect class="lf" x="296.4" y="402.6" width="5.8" height="2.6"/>
<path class="k4" d="M302.2 405.2 L296.4 405.2 L294.2 410.2 L303.2 410.2Z"/>
<rect class="k6" x="303" y="433" width="3.6" height="3.4"/>
<path class="k4" d="M302.8 433 L294 433 L295.2 437.4 L301.6 437.4Z"/>
<rect class="k4" x="302.2" y="437.4" width="3" height="9.6"/>
<rect class="lf" x="295.2" y="439.6" width="7" height="4.2"/>
<line class="l" x1="302.2" y1="441.7" x2="295.2" y2="441.7"/>
<line class="lw" x1="295.2" y1="439" x2="295.2" y2="444.4"/>
<rect class="k4" x="296" y="444.6" width="8" height="2.6"/>
<rect class="lf" x="256.25" y="410" width="51.25" height="22.5"/>
<rect class="kh" x="256.25" y="410.2" width="51.25" height="3.2"/>
<rect class="kh" x="256.25" y="428.9" width="51.25" height="3.8"/>
<line class="t" x1="256.25" y1="415.4" x2="307.5" y2="415.4"/>
<line class="l" x1="256.25" y1="420.6" x2="307.5" y2="420.6"/>
<line class="lw" x1="256.25" y1="422.4" x2="272" y2="422.4"/>
<line class="lw" x1="292" y1="422.4" x2="307.5" y2="422.4"/>
<line class="t" x1="272" y1="422.4" x2="292" y2="422.4"/>
<line class="t" x1="256.25" y1="427" x2="307.5" y2="427"/>
<rect class="lf" x="278.75" y="432.5" width="13.75" height="20"/>
<line class="t" x1="280.6" y1="436" x2="280.6" y2="452.5"/>
<line class="t" x1="290.6" y1="436" x2="290.6" y2="452.5"/>
<path class="l" d="M 280.6 442.2 L 285.5 442.2 Q 287.6 443.6 285.5 445 L 280.6 445"/>
<line class="t" x1="278.75" y1="448.6" x2="292.5" y2="448.6"/>
<path class="ub" d="M264.6 447.3 L264.6 458.2 L299 458.2 L299 447.3 L295.8 447.3 L295.8 455.2 L267.8 455.2 L267.8 447.3Z"/>
<line class="t" x1="307.5" y1="414.4" x2="322.3" y2="414.4"/>
<line class="t" x1="307.5" y1="428.9" x2="322.3" y2="428.9"/>
<line class="t" x1="320.6" y1="394.5" x2="320.6" y2="428.9"/>
<path class="a" d="M320.6 414.4 L320 417 L321.2 417 Z"/>
<path class="a" d="M320.6 428.9 L320 426.3 L321.2 426.3 Z"/>
<text class="dt" font-size="6.2" transform="translate(317.4 403) rotate(-90)" x="-7.44" textLength="14.88" lengthAdjust="spacingAndGlyphs" dy="0.35em">ø55H8</text>
<ellipse class="l" cx="333.6" cy="421.3" rx="6.9" ry="7.8"/>
<line class="c2" x1="328" y1="421.3" x2="339.5" y2="421.3"/>
<line class="c2" x1="333.9" y1="414.5" x2="333.9" y2="428.5"/>
<line class="l" x1="332.4" y1="428.6" x2="332.4" y2="437.2"/>
<line class="l" x1="336" y1="428.6" x2="336" y2="437.2"/>
<line class="t" x1="326.8" y1="435.6" x2="347" y2="435.6"/>
<path class="a" d="M332.4 435.6 L330 435 L330 436.2 Z"/>
<path class="a" d="M336 435.6 L338.4 435 L338.4 436.2 Z"/>
<text class="dt" font-size="6.2" transform="translate(344.8 439.2) rotate(-90)" x="-2.76" textLength="5.52" lengthAdjust="spacingAndGlyphs" dy="0.35em">16</text>
<line class="t" x1="333.6" y1="413.5" x2="349" y2="413.5"/>
<line class="t" x1="337.5" y1="429.7" x2="349" y2="429.7"/>
<line class="t" x1="347.5" y1="413.5" x2="347.5" y2="429.7"/>
<path class="a" d="M347.5 413.5 L346.75 416.7 L348.25 416.7 Z"/>
<path class="a" d="M347.5 429.7 L346.75 426.5 L348.25 426.5 Z"/>
<text class="dt" font-size="6.2" transform="translate(344.4 421.5) rotate(-90)" x="-4.83" textLength="9.65" lengthAdjust="spacingAndGlyphs" dy="0.35em">59.3</text>
<line class="t" x1="256.9" y1="450" x2="256.9" y2="474"/>
<line class="t" x1="307.5" y1="450" x2="307.5" y2="474"/>
<line class="t" x1="256.9" y1="471.9" x2="307.5" y2="471.9"/>
<path class="a" d="M256.9 471.9 L259.5 471.3 L259.5 472.5 Z"/>
<path class="a" d="M281.9 471.9 L279.3 471.3 L279.3 472.5 Z"/>
<path class="a" d="M281.9 471.9 L284.5 471.3 L284.5 472.5 Z"/>
<path class="a" d="M307.5 471.9 L304.9 471.3 L304.9 472.5 Z"/>
<text class="dt" font-size="6.2" transform="translate(268.8 476) rotate(180)" x="-4.14" textLength="8.27" lengthAdjust="spacingAndGlyphs" dy="0.35em">115</text>
<text class="dt" font-size="6.2" transform="translate(294.8 476) rotate(180)" x="-4.14" textLength="8.27" lengthAdjust="spacingAndGlyphs" dy="0.35em">115</text>
<line class="l" x1="510.26" y1="96.6" x2="594.97" y2="96.6"/>
<line class="l" x1="510.26" y1="179.5" x2="595.47" y2="179.5"/>
<line class="t" x1="512.5" y1="96.6" x2="512.5" y2="179.5"/>
<path class="a" d="M512.5 96.6 L511.75 99.8 L513.25 99.8 Z"/>
<path class="a" d="M512.5 179.5 L511.75 176.3 L513.25 176.3 Z"/>
<text class="dt" font-size="6.2" transform="translate(509.46 138.1) rotate(-90)" x="-5.65" textLength="11.3" lengthAdjust="spacingAndGlyphs" dy="0.35em">ø350</text>
<rect class="l" x="551.72" y="88.5" width="23.72" height="1.95"/>
<rect class="lf" x="554.11" y="90.45" width="19.43" height="17.62"/>
<rect class="k4" x="554.11" y="91.17" width="1.89" height="9.63"/>
<rect class="k4" x="571.65" y="91.17" width="1.89" height="9.63"/>
<line class="t" x1="554.11" y1="100.8" x2="573.54" y2="100.8"/>
<line class="t" x1="554.11" y1="102.44" x2="573.54" y2="102.44"/>
<rect class="l" x="550.12" y="93.01" width="3.99" height="4.3"/>
<line class="t" x1="551.52" y1="93.01" x2="551.52" y2="97.32"/>
<line class="t" x1="552.91" y1="93.01" x2="552.91" y2="97.32"/>
<clipPath id="mcb"><path d="M526.2 105.82 L575.44 105.82 L575.44 170.48 L523.71 170.48 L523.71 116.07Z"/></clipPath>
<g clip-path="url(#mcb)">
<line class="fin" x1="522.22" y1="107.26" x2="576.03" y2="107.26"/>
<line class="fin" x1="522.22" y1="106.18" x2="576.03" y2="106.18"/>
<line class="fin" x1="522.22" y1="109" x2="576.03" y2="109"/>
<line class="fin" x1="522.22" y1="111.82" x2="576.03" y2="111.82"/>
<line class="fin" x1="522.22" y1="114.63" x2="576.03" y2="114.63"/>
<line class="fin" x1="522.22" y1="117.45" x2="576.03" y2="117.45"/>
<line class="fin" x1="522.22" y1="120.27" x2="576.03" y2="120.27"/>
<line class="fin" x1="522.22" y1="123.09" x2="576.03" y2="123.09"/>
<line class="fin" x1="522.22" y1="125.91" x2="576.03" y2="125.91"/>
<line class="fin" x1="522.22" y1="128.72" x2="576.03" y2="128.72"/>
<line class="fin" x1="522.22" y1="131.54" x2="576.03" y2="131.54"/>
<line class="fin" x1="522.22" y1="134.36" x2="576.03" y2="134.36"/>
<line class="fin" x1="522.22" y1="137.18" x2="576.03" y2="137.18"/>
<line class="fin" x1="522.22" y1="140" x2="576.03" y2="140"/>
<line class="fin" x1="522.22" y1="142.81" x2="576.03" y2="142.81"/>
<line class="fin" x1="522.22" y1="145.63" x2="576.03" y2="145.63"/>
<line class="fin" x1="522.22" y1="148.45" x2="576.03" y2="148.45"/>
<line class="fin" x1="522.22" y1="151.27" x2="576.03" y2="151.27"/>
<line class="fin" x1="522.22" y1="154.09" x2="576.03" y2="154.09"/>
<line class="fin" x1="522.22" y1="156.9" x2="576.03" y2="156.9"/>
<line class="fin" x1="522.22" y1="159.72" x2="576.03" y2="159.72"/>
<line class="fin" x1="522.22" y1="162.54" x2="576.03" y2="162.54"/>
<line class="fin" x1="522.22" y1="165.36" x2="576.03" y2="165.36"/>
<line class="fin" x1="522.22" y1="168.18" x2="576.03" y2="168.18"/>
</g>
<path class="l" d="M526.2 105.82 L575.44 105.82 L575.44 170.48 L523.71 170.48 L523.71 116.07Z"/>
<path class="l" d="M 525.01 114.53 Q 506.77 145.27 521.22 170.89"/>
<line class="l" x1="521.22" y1="170.89" x2="523.71" y2="170.48"/>
<ellipse class="t" cx="548.13" cy="137.08" rx="5.18" ry="5.33"/>
<ellipse class="lw" cx="548.13" cy="137.08" rx="3.59" ry="3.69"/>
<ellipse class="t" cx="548.13" cy="137.08" rx="2.19" ry="2.25"/>
<line class="l" x1="546.63" y1="137.08" x2="549.62" y2="137.08"/>
<line class="l" x1="520.22" y1="137.08" x2="522.72" y2="137.08"/>
<line class="cm" x1="522.22" y1="137.08" x2="583.01" y2="137.08"/>
<rect class="l" x="575.44" y="106.95" width="1.59" height="4.71"/>
<rect class="l" x="575.44" y="164.13" width="1.59" height="4.71"/>
<rect class="l" x="578.03" y="112.23" width="3.79" height="51.23"/>
<path class="l" d="M575.63 135.64 L576.73 138.1 L577.83 135.64"/>
<line class="l" x1="582.26" y1="96.6" x2="582.26" y2="179.5"/>
<line class="t" x1="583.61" y1="96.6" x2="583.61" y2="179.5"/>
<line class="l" x1="587.25" y1="96.6" x2="587.25" y2="179.5"/>
<line class="l" x1="594.72" y1="96.6" x2="594.72" y2="179.5"/>
<path class="l" d="M594.72 96.6 L604.34 107.56 L604.34 119.25"/>
<path class="l" d="M594.72 179.5 L604.34 168.23 L604.34 156.54"/>
<path class="l" d="M 594.72 119.25 L 654.27 119.25 Q 661.34 119.25 661.34 111.97 L 661.34 103.88"/>
<path class="l" d="M 594.72 156.54 L 654.27 156.54 Q 661.34 156.54 661.34 163.72 L 661.34 172.43"/>
<path class="l" d="M 594.72 120.27 L 610.91 120.27 Q 613.21 120.27 613.21 122.73 L 613.21 132.57 Q 613.21 135.03 610.91 135.03 L 594.72 135.03"/>
<path class="l" d="M 594.72 141.58 L 610.91 141.58 Q 613.21 141.58 613.21 144.04 L 613.21 153.27 Q 613.21 155.73 610.91 155.73 L 594.72 155.73"/>
<line class="l" x1="604.34" y1="115.45" x2="651.38" y2="115.45"/>
<line class="l" x1="651.38" y1="114.53" x2="651.38" y2="119.25"/>
<line class="l" x1="612.91" y1="112.28" x2="642.81" y2="112.28"/>
<path class="l" d="M604.34 107.77 L608.52 111.66 L608.52 115.45"/>
<path class="l" d="M612.91 112.28 L611.71 115.45"/>
<path class="l" d="M642.81 112.28 L644 115.45"/>
<rect class="k2" x="618.39" y="110.33" width="18.74" height="1.95"/>
<rect class="k2" x="606.73" y="110.64" width="4.19" height="3.89"/>
<rect class="k2" x="644.4" y="110.64" width="4.58" height="3.89"/>
<line class="t" x1="604.34" y1="117.4" x2="651.38" y2="117.4"/>
<line class="l" x1="604.34" y1="160.34" x2="651.38" y2="160.34"/>
<line class="l" x1="651.38" y1="161.26" x2="651.38" y2="156.54"/>
<line class="l" x1="612.91" y1="163.51" x2="642.81" y2="163.51"/>
<path class="l" d="M604.34 168.02 L608.52 164.13 L608.52 160.34"/>
<path class="l" d="M612.91 163.51 L611.71 160.34"/>
<path class="l" d="M642.81 163.51 L644 160.34"/>
<rect class="k2" x="618.39" y="163.51" width="18.74" height="1.95"/>
<rect class="k2" x="606.73" y="161.26" width="4.19" height="3.89"/>
<rect class="k2" x="644.4" y="161.26" width="4.58" height="3.89"/>
<line class="t" x1="604.34" y1="158.39" x2="651.38" y2="158.39"/>
<rect class="l" x="661.34" y="103.88" width="4.98" height="68.55"/>
<rect class="k2" x="661.34" y="103.88" width="4.98" height="2.25"/>
<rect class="k2" x="661.34" y="170.17" width="4.98" height="2.25"/>
<line class="l" x1="662.64" y1="121.71" x2="662.64" y2="154.5"/>
<line class="l" x1="661.34" y1="121.71" x2="663.73" y2="121.71"/>
<line class="l" x1="661.34" y1="154.5" x2="663.73" y2="154.5"/>
<line class="t" x1="661.34" y1="109.92" x2="666.33" y2="109.92"/>
<line class="t" x1="661.34" y1="166.28" x2="666.33" y2="166.28"/>
<ellipse class="lw" cx="657.75" cy="137.84" rx="3.19" ry="3.28"/>
<ellipse class="t" cx="657.75" cy="137.84" rx="1.89" ry="1.95"/>
<line class="l" x1="655.36" y1="137.84" x2="660.15" y2="137.84"/>
<line class="t" x1="654.76" y1="80.72" x2="654.76" y2="117.61"/>
<path class="a" d="M654.76 105.31 L654.16 102.71 L655.36 102.71 Z"/>
<path class="a" d="M654.76 110.95 L654.16 113.55 L655.36 113.55 Z"/>
<line class="t" x1="653.27" y1="105.31" x2="661.74" y2="105.31"/>
<line class="t" x1="653.27" y1="110.95" x2="661.74" y2="110.95"/>
<text class="dt" font-size="6.2" transform="translate(652.37 89.94) rotate(-90)" x="-6.48" textLength="12.96" lengthAdjust="spacingAndGlyphs" dy="0.35em">8-ø20</text>
<line class="t" x1="666.33" y1="108.38" x2="677.69" y2="108.38"/>
<line class="t" x1="666.33" y1="167.82" x2="677.69" y2="167.82"/>
<line class="t" x1="675.1" y1="108.38" x2="675.1" y2="167.82"/>
<path class="a" d="M675.1 108.38 L674.35 111.58 L675.85 111.58 Z"/>
<path class="a" d="M675.1 167.82 L674.35 164.62 L675.85 164.62 Z"/>
<text class="dt" font-size="6.2" transform="translate(672.7 138.1) rotate(-90)" x="-4.14" textLength="8.27" lengthAdjust="spacingAndGlyphs" dy="0.35em">258</text>
<line class="t" x1="661.34" y1="103.88" x2="688.15" y2="103.88"/>
<line class="t" x1="666.33" y1="172.43" x2="688.15" y2="172.43"/>
<line class="t" x1="686.26" y1="103.88" x2="686.26" y2="172.43"/>
<path class="a" d="M686.26 103.88 L685.51 107.08 L687.01 107.08 Z"/>
<path class="a" d="M686.26 172.43 L685.51 169.23 L687.01 169.23 Z"/>
<text class="dt" font-size="6.2" transform="translate(683.87 138.1) rotate(-90)" x="-4.14" textLength="8.27" lengthAdjust="spacingAndGlyphs" dy="0.35em">290</text>
<line class="t" x1="661.34" y1="172.43" x2="661.34" y2="182.67"/>
<line class="t" x1="666.33" y1="172.43" x2="666.33" y2="182.67"/>
<line class="t" x1="650.78" y1="180.11" x2="671.21" y2="180.11"/>
<path class="a" d="M661.34 180.11 L658.74 179.51 L658.74 180.71 Z"/>
<path class="a" d="M666.33 180.11 L668.93 179.51 L668.93 180.71 Z"/>
<text class="dt" font-size="6.2" transform="translate(653.27 184.42) rotate(-90)" x="-2.76" textLength="5.52" lengthAdjust="spacingAndGlyphs" dy="0.35em">26</text>
<line class="t" x1="528.47" y1="219.23" x2="528.47" y2="403.6"/>
<line class="l" x1="607.77" y1="219.23" x2="607.77" y2="468.26"/>
<line class="t" x1="528.47" y1="221.25" x2="607.77" y2="221.25"/>
<path class="a" d="M528.47 221.25 L531.67 220.5 L531.67 222 Z"/>
<path class="a" d="M607.77 221.25 L604.57 220.5 L604.57 222 Z"/>
<text class="dt" font-size="6.2" transform="translate(568.57 225.23) rotate(180)" x="-4.14" textLength="8.27" lengthAdjust="spacingAndGlyphs" dy="0.35em">570</text>
<line class="c" x1="569.68" y1="236.51" x2="569.68" y2="470.33"/>
<line class="t" x1="569.68" y1="238.84" x2="607.77" y2="238.84"/>
<path class="a" d="M569.68 238.84 L572.88 238.09 L572.88 239.59 Z"/>
<path class="a" d="M607.77 238.84 L604.57 238.09 L604.57 239.59 Z"/>
<text class="dt" font-size="6.2" transform="translate(588.47 242.82) rotate(180)" x="-6.2" textLength="12.41" lengthAdjust="spacingAndGlyphs" dy="0.35em">108.5</text>
<path class="l" d="M 629.88 255.13 L 538.17 255.13 Q 535.16 255.13 535.16 258.24 L 535.16 465.16 Q 535.16 468.26 538.17 468.26 L 629.88 468.26"/>
<line class="l" x1="603.65" y1="255.13" x2="603.65" y2="468.26"/>
<line class="l" x1="592.94" y1="314.62" x2="592.94" y2="408.77"/>
<line class="l" x1="535.16" y1="275.31" x2="554" y2="255.13"/>
<line class="l" x1="535.16" y1="448.08" x2="554" y2="468.26"/>
<ellipse class="l" cx="541.69" cy="262.37" rx="3.42" ry="3.52"/>
<line class="t" x1="537.77" y1="262.37" x2="545.61" y2="262.37"/>
<line class="t" x1="541.69" y1="258.34" x2="541.69" y2="266.41"/>
<ellipse class="l" cx="541.69" cy="461.53" rx="3.42" ry="3.52"/>
<line class="t" x1="537.77" y1="461.53" x2="545.61" y2="461.53"/>
<line class="t" x1="541.69" y1="457.5" x2="541.69" y2="465.57"/>
<ellipse class="l" cx="599.83" cy="320.21" rx="3.52" ry="3.62"/>
<line class="t" x1="595.81" y1="320.21" x2="603.85" y2="320.21"/>
<line class="t" x1="599.83" y1="316.07" x2="599.83" y2="324.35"/>
<line class="t" x1="628.62" y1="255.13" x2="628.62" y2="468.26"/>
<path class="a" d="M628.62 255.13 L627.87 258.33 L629.37 258.33 Z"/>
<path class="a" d="M628.62 468.26 L627.87 465.06 L629.37 465.06 Z"/>
<text class="dt" font-size="6.2" transform="translate(625.96 361.18) rotate(-90)" x="-4.14" textLength="8.27" lengthAdjust="spacingAndGlyphs" dy="0.35em">816</text>
<line class="t" x1="594.8" y1="264.18" x2="619.83" y2="264.18"/>
<line class="t" x1="600.23" y1="329.11" x2="619.83" y2="329.11"/>
<line class="t" x1="600.23" y1="393.77" x2="619.83" y2="393.77"/>
<line class="t" x1="600.23" y1="458.43" x2="619.83" y2="458.43"/>
<line class="t" x1="618.07" y1="264.18" x2="618.07" y2="458.43"/>
<path class="a" d="M618.07 264.18 L617.32 267.38 L618.82 267.38 Z"/>
<path class="a" d="M618.07 329.11 L617.32 325.91 L618.82 325.91 Z"/>
<path class="a" d="M618.07 329.11 L617.32 332.31 L618.82 332.31 Z"/>
<path class="a" d="M618.07 393.77 L617.32 390.57 L618.82 390.57 Z"/>
<path class="a" d="M618.07 393.77 L617.32 396.97 L618.82 396.97 Z"/>
<path class="a" d="M618.07 458.43 L617.32 455.23 L618.82 455.23 Z"/>
<text class="dt" font-size="6.2" transform="translate(615.1 296.52) rotate(-90)" x="-4.14" textLength="8.27" lengthAdjust="spacingAndGlyphs" dy="0.35em">270</text>
<text class="dt" font-size="6.2" transform="translate(615.1 361.18) rotate(-90)" x="-4.14" textLength="8.27" lengthAdjust="spacingAndGlyphs" dy="0.35em">276</text>
<text class="dt" font-size="6.2" transform="translate(615.1 425.84) rotate(-90)" x="-4.14" textLength="8.27" lengthAdjust="spacingAndGlyphs" dy="0.35em">270</text>
<line class="t" x1="596.96" y1="264.18" x2="596.96" y2="293.41"/>
<path class="a" d="M596.96 264.18 L596.21 267.38 L597.71 267.38 Z"/>
<path class="a" d="M596.96 293.41 L596.21 290.21 L597.71 290.21 Z"/>
<text class="dt" font-size="6.2" transform="translate(594.4 278.62) rotate(-90)" x="-4.14" textLength="8.27" lengthAdjust="spacingAndGlyphs" dy="0.35em">120</text>
<line class="t" x1="455.51" y1="293.41" x2="529.88" y2="293.41"/>
<line class="c" x1="532.89" y1="293.41" x2="622.34" y2="293.41"/>
<line class="t" x1="455.51" y1="430.08" x2="529.88" y2="430.08"/>
<line class="c" x1="532.89" y1="430.08" x2="622.34" y2="430.08"/>
<line class="c" x1="457.52" y1="361.59" x2="610.28" y2="361.59"/>
<line class="t" x1="455.51" y1="293.41" x2="455.51" y2="430.08"/>
<path class="a" d="M455.51 293.41 L454.76 296.61 L456.26 296.61 Z"/>
<path class="a" d="M455.51 430.08 L454.76 426.88 L456.26 426.88 Z"/>
<text class="dt" font-size="6.2" transform="translate(452.9 361.18) rotate(-90)" x="-4.14" textLength="8.27" lengthAdjust="spacingAndGlyphs" dy="0.35em">520</text>
<path class="l" d="M 556.59 314.52 A 24.32 25.04 0 1 1 582.76 314.52 Z"/>
<path class="l" d="M 558.89 312.45 A 21.41 22.04 0 1 1 580.46 312.45 Z"/>
<ellipse class="c" cx="569.68" cy="293.41" rx="18.49" ry="19.04"/>
<ellipse class="l" cx="569.68" cy="293.41" rx="15.28" ry="15.73"/>
<ellipse class="l" cx="569.68" cy="293.41" rx="11.26" ry="11.59"/>
<ellipse class="l" cx="569.68" cy="293.41" rx="7.54" ry="7.76"/>
<path class="l" d="M 564.05 293.41 Q 564.45 288.03 569.68 287.62 Q 574.9 288.03 575.31 293.41 Q 574.1 297.96 569.68 300.03 Q 565.26 297.96 564.05 293.41 Z"/>
<path class="l" d="M 556.59 408.98 A 24.32 25.04 0 1 0 582.76 408.98 Z"/>
<path class="l" d="M 558.89 411.05 A 21.41 22.04 0 1 0 580.46 411.05 Z"/>
<ellipse class="c" cx="569.68" cy="430.08" rx="18.49" ry="19.04"/>
<ellipse class="l" cx="569.68" cy="430.08" rx="15.28" ry="15.73"/>
<ellipse class="l" cx="569.68" cy="430.08" rx="11.26" ry="11.59"/>
<ellipse class="l" cx="569.68" cy="430.08" rx="7.54" ry="7.76"/>
<path class="l" d="M 564.05 430.08 Q 564.45 424.7 569.68 424.29 Q 574.9 424.7 575.31 430.08 Q 574.1 434.63 569.68 436.7 Q 565.26 434.63 564.05 430.08 Z"/>
<rect class="k5" x="529.48" y="290.31" width="5.63" height="8.48"/>
<line class="l" x1="529.48" y1="293" x2="535.11" y2="293"/>
<line class="l" x1="529.48" y1="296.1" x2="535.11" y2="296.1"/>
<rect class="l" x="529.48" y="290.31" width="5.63" height="8.48" rx="1.2"/>
<rect class="k5" x="529.48" y="425.84" width="5.63" height="8.48"/>
<line class="l" x1="529.48" y1="428.53" x2="535.11" y2="428.53"/>
<line class="l" x1="529.48" y1="431.63" x2="535.11" y2="431.63"/>
<rect class="l" x="529.48" y="425.84" width="5.63" height="8.48" rx="1.2"/>
<ellipse class="t" cx="538.92" cy="314.36" rx="2.51" ry="2.59"/>
<path class="k" d="M538.92 311.93 L541.24 314.36 L538.92 316.79 L536.61 314.36Z"/>
<path class="l" d="M549.58 305.83 L555.91 312.03 L555.91 410.32 L549.58 417.05"/>
<path class="l" d="M535.16 320.21 L523.85 320.21 L523.85 403.6 L535.16 403.6"/>
<path class="l" d="M535.16 320.21 L544.55 329.88 L544.55 393.25 L535.16 403.6"/>
<line class="l" x1="546.96" y1="329.88" x2="546.96" y2="393.66"/>
<line class="l" x1="544.55" y1="329.88" x2="546.96" y2="329.88"/>
<line class="l" x1="544.55" y1="393.66" x2="546.96" y2="393.66"/>
<line class="l" x1="546.96" y1="331.8" x2="555.91" y2="331.8"/>
<line class="l" x1="546.96" y1="334.28" x2="555.91" y2="334.28"/>
<line class="l" x1="546.96" y1="389.37" x2="555.91" y2="389.37"/>
<line class="l" x1="546.96" y1="392.63" x2="555.91" y2="392.63"/>
<ellipse class="lw" cx="573.5" cy="332.21" rx="9.55" ry="9.83"/>
<ellipse class="d" cx="573.5" cy="332.21" rx="11.26" ry="11.59"/>
<line class="l" x1="572.84" y1="320.83" x2="574.1" y2="344.11"/>
<path class="t" d="M572.84 320.83 L579.12 347.73 L582.14 352.9"/>
<path class="l" d="M562.04 347.99 L591.18 347.99 L592.94 349.8 L592.94 369.97 L581.64 375.15 L562.04 375.15 L555.91 367.9 L555.91 355.49Z"/>
<ellipse class="c" cx="569.68" cy="361.59" rx="10.25" ry="10.55"/>
<ellipse class="lw" cx="569.68" cy="361.59" rx="8.54" ry="8.79"/>
<ellipse class="l" cx="569.68" cy="361.59" rx="6.43" ry="6.62"/>
<line class="l" x1="569.68" y1="361.59" x2="574.7" y2="360.04"/>
<ellipse class="d" cx="584.15" cy="357.04" rx="6.23" ry="6.41"/>
<line class="t" x1="576.61" y1="357.04" x2="591.69" y2="357.04"/>
<line class="t" x1="584.15" y1="349.8" x2="584.15" y2="365.32"/>
<line class="t" x1="580.13" y1="351.87" x2="588.67" y2="362.73"/>
<path class="a" d="M588.77 357.04 L586.37 356.44 L586.37 357.64 Z"/>
<path class="a" d="M584.15 350.42 L583.55 352.82 L584.75 352.82 Z"/>
<ellipse class="lw" cx="572.84" cy="390.66" rx="9.55" ry="9.83"/>
<ellipse class="d" cx="572.84" cy="390.66" rx="11.26" ry="11.59"/>
<line class="t" x1="564.05" y1="390.66" x2="583.14" y2="390.66"/>
<line class="t" x1="572.84" y1="379.8" x2="572.84" y2="401.53"/>
<clipPath id="fmb"><path d="M471.09 329.11 L516.81 329.11 L516.81 394.29 L466.06 394.29 L463.85 388.6 L463.85 356.01Z"/></clipPath>
<g clip-path="url(#fmb)">
<rect class="g1" x="461.54" y="329.11" width="58.29" height="6"/>
<line class="fin" x1="461.54" y1="391.6" x2="517.82" y2="391.6"/>
<line class="fin" x1="461.54" y1="393.04" x2="517.82" y2="393.04"/>
<line class="fin" x1="461.54" y1="335.11" x2="517.82" y2="335.11"/>
<line class="fin" x1="461.54" y1="338.31" x2="517.82" y2="338.31"/>
<line class="fin" x1="461.54" y1="341.52" x2="517.82" y2="341.52"/>
<line class="fin" x1="461.54" y1="344.73" x2="517.82" y2="344.73"/>
<line class="fin" x1="461.54" y1="347.94" x2="517.82" y2="347.94"/>
<line class="fin" x1="461.54" y1="351.14" x2="517.82" y2="351.14"/>
<line class="fin" x1="461.54" y1="354.35" x2="517.82" y2="354.35"/>
<line class="fin" x1="461.54" y1="357.56" x2="517.82" y2="357.56"/>
<line class="fin" x1="461.54" y1="360.76" x2="517.82" y2="360.76"/>
<line class="fin" x1="461.54" y1="363.97" x2="517.82" y2="363.97"/>
<line class="fin" x1="461.54" y1="367.18" x2="517.82" y2="367.18"/>
<line class="fin" x1="461.54" y1="370.39" x2="517.82" y2="370.39"/>
<line class="fin" x1="461.54" y1="373.59" x2="517.82" y2="373.59"/>
<line class="fin" x1="461.54" y1="376.8" x2="517.82" y2="376.8"/>
<line class="fin" x1="461.54" y1="380.01" x2="517.82" y2="380.01"/>
<line class="fin" x1="461.54" y1="383.22" x2="517.82" y2="383.22"/>
<line class="fin" x1="461.54" y1="386.42" x2="517.82" y2="386.42"/>
<line class="fin" x1="461.54" y1="389.63" x2="517.82" y2="389.63"/>
</g>
<path class="l" d="M471.09 329.11 L516.41 329.11 L516.41 394.29 L466.06 394.29 L463.85 388.6 L463.85 356.01Z"/>
<path class="l" d="M 465.36 349.8 Q 453.1 367.39 465.76 393.87"/>
<rect class="lf" x="492.44" y="347.99" width="23.87" height="26.64" rx="3"/>
<rect class="l" x="494.3" y="350" width="20.1" height="22.66" rx="2.2"/>
<line class="sh" x1="461.04" y1="361.59" x2="492.44" y2="361.59"/>
<path class="a" d="M459.93 361.59 L462.93 360.59 L462.93 362.59 Z"/>
<rect class="l" x="516.41" y="330.14" width="2.01" height="4.76"/>
<rect class="l" x="516.41" y="389.11" width="2.01" height="4.76"/>
<rect class="l" x="519.23" y="335.31" width="4.62" height="52.76"/>
<path class="k" d="M516.81 359.94 L518.82 361.59 L516.81 363.25Z"/>
<path class="l" d="M484.15 394.29 L487.47 397.8 L490.48 397.8 L493.7 394.29"/>
<rect class="l" x="488.07" y="397.8" width="1.81" height="6.83"/>
<line class="t" x1="504.65" y1="361.59" x2="504.65" y2="430.08"/>
<path class="a" d="M504.65 361.59 L503.9 364.79 L505.4 364.79 Z"/>
<path class="a" d="M504.65 430.08 L503.9 426.88 L505.4 426.88 Z"/>
<text class="dt" font-size="6.2" transform="translate(501.94 401.01) rotate(-90)" x="-4.14" textLength="8.27" lengthAdjust="spacingAndGlyphs" dy="0.35em">285</text>
<rect class="l" x="645.05" y="254.87" width="62.71" height="213.39" rx="2"/>
<ellipse class="t" cx="649.47" cy="264.96" rx="2.31" ry="2.38"/>
<line class="t" x1="646.56" y1="264.96" x2="652.39" y2="264.96"/>
<line class="t" x1="649.47" y1="261.96" x2="649.47" y2="267.96"/>
<ellipse class="t" cx="703.24" cy="264.96" rx="2.31" ry="2.38"/>
<line class="t" x1="700.33" y1="264.96" x2="706.16" y2="264.96"/>
<line class="t" x1="703.24" y1="261.96" x2="703.24" y2="267.96"/>
<ellipse class="t" cx="649.47" cy="329.11" rx="2.31" ry="2.38"/>
<line class="t" x1="646.56" y1="329.11" x2="652.39" y2="329.11"/>
<line class="t" x1="649.47" y1="326.11" x2="649.47" y2="332.11"/>
<ellipse class="t" cx="703.24" cy="329.11" rx="2.31" ry="2.38"/>
<line class="t" x1="700.33" y1="329.11" x2="706.16" y2="329.11"/>
<line class="t" x1="703.24" y1="326.11" x2="703.24" y2="332.11"/>
<ellipse class="t" cx="649.47" cy="394.54" rx="2.31" ry="2.38"/>
<line class="t" x1="646.56" y1="394.54" x2="652.39" y2="394.54"/>
<line class="t" x1="649.47" y1="391.54" x2="649.47" y2="397.54"/>
<ellipse class="t" cx="703.24" cy="394.54" rx="2.31" ry="2.38"/>
<line class="t" x1="700.33" y1="394.54" x2="706.16" y2="394.54"/>
<line class="t" x1="703.24" y1="391.54" x2="703.24" y2="397.54"/>
<ellipse class="t" cx="649.47" cy="459.47" rx="2.31" ry="2.38"/>
<line class="t" x1="646.56" y1="459.47" x2="652.39" y2="459.47"/>
<line class="t" x1="649.47" y1="456.47" x2="649.47" y2="462.47"/>
<ellipse class="t" cx="703.24" cy="459.47" rx="2.31" ry="2.38"/>
<line class="t" x1="700.33" y1="459.47" x2="706.16" y2="459.47"/>
<line class="t" x1="703.24" y1="456.47" x2="703.24" y2="462.47"/>
<line class="c" x1="676.51" y1="250.99" x2="676.51" y2="485.33"/>
<path class="l" d="M658.92 254.87 L658.92 264.34 L656.51 267.03 L656.51 329.11"/>
<path class="l" d="M694.1 254.87 L694.1 264.34 L696.61 267.03 L696.61 329.11"/>
<line class="l" x1="659.73" y1="264.34" x2="659.73" y2="326"/>
<line class="l" x1="693.29" y1="264.34" x2="693.29" y2="326"/>
<path class="l" d="M 658.92 276.96 L 671.59 276.96 Q 673.34 276.96 673.34 274.89 L 673.34 254.87"/>
<path class="l" d="M 694.1 276.96 L 681.43 276.96 Q 679.62 276.96 679.62 274.89 L 679.62 254.87"/>
<line class="c" x1="652.99" y1="293.67" x2="699.72" y2="293.67"/>
<ellipse class="lw" cx="676.51" cy="293.67" rx="3.42" ry="3.52"/>
<ellipse class="l" cx="676.51" cy="293.67" rx="1.81" ry="1.86"/>
<ellipse class="lf" cx="676.81" cy="361.49" rx="37.99" ry="40.97"/>
<clipPath id="meshb"><ellipse cx="676.81" cy="361.49" rx="32.36" ry="36.21"/></clipPath>
<g clip-path="url(#meshb)">
<line class="m" x1="546.36" y1="316.79" x2="626.76" y2="406.18"/>
<line class="m" x1="626.76" y1="316.79" x2="546.36" y2="406.18"/>
<line class="m" x1="552.89" y1="316.79" x2="633.29" y2="406.18"/>
<line class="m" x1="633.29" y1="316.79" x2="552.89" y2="406.18"/>
<line class="m" x1="559.43" y1="316.79" x2="639.83" y2="406.18"/>
<line class="m" x1="639.83" y1="316.79" x2="559.43" y2="406.18"/>
<line class="m" x1="565.96" y1="316.79" x2="646.36" y2="406.18"/>
<line class="m" x1="646.36" y1="316.79" x2="565.96" y2="406.18"/>
<line class="m" x1="572.49" y1="316.79" x2="652.89" y2="406.18"/>
<line class="m" x1="652.89" y1="316.79" x2="572.49" y2="406.18"/>
<line class="m" x1="579.02" y1="316.79" x2="659.42" y2="406.18"/>
<line class="m" x1="659.42" y1="316.79" x2="579.02" y2="406.18"/>
<line class="m" x1="585.56" y1="316.79" x2="665.96" y2="406.18"/>
<line class="m" x1="665.96" y1="316.79" x2="585.56" y2="406.18"/>
<line class="m" x1="592.09" y1="316.79" x2="672.49" y2="406.18"/>
<line class="m" x1="672.49" y1="316.79" x2="592.09" y2="406.18"/>
<line class="m" x1="598.62" y1="316.79" x2="679.02" y2="406.18"/>
<line class="m" x1="679.02" y1="316.79" x2="598.62" y2="406.18"/>
<line class="m" x1="605.15" y1="316.79" x2="685.55" y2="406.18"/>
<line class="m" x1="685.55" y1="316.79" x2="605.15" y2="406.18"/>
<line class="m" x1="611.69" y1="316.79" x2="692.09" y2="406.18"/>
<line class="m" x1="692.09" y1="316.79" x2="611.69" y2="406.18"/>
<line class="m" x1="618.22" y1="316.79" x2="698.62" y2="406.18"/>
<line class="m" x1="698.62" y1="316.79" x2="618.22" y2="406.18"/>
<line class="m" x1="624.75" y1="316.79" x2="705.15" y2="406.18"/>
<line class="m" x1="705.15" y1="316.79" x2="624.75" y2="406.18"/>
<line class="m" x1="631.28" y1="316.79" x2="711.68" y2="406.18"/>
<line class="m" x1="711.68" y1="316.79" x2="631.28" y2="406.18"/>
<line class="m" x1="637.82" y1="316.79" x2="718.22" y2="406.18"/>
<line class="m" x1="718.22" y1="316.79" x2="637.82" y2="406.18"/>
<line class="m" x1="644.35" y1="316.79" x2="724.75" y2="406.18"/>
<line class="m" x1="724.75" y1="316.79" x2="644.35" y2="406.18"/>
<line class="m" x1="650.88" y1="316.79" x2="731.28" y2="406.18"/>
<line class="m" x1="731.28" y1="316.79" x2="650.88" y2="406.18"/>
<line class="m" x1="657.41" y1="316.79" x2="737.81" y2="406.18"/>
<line class="m" x1="737.81" y1="316.79" x2="657.41" y2="406.18"/>
<line class="m" x1="663.95" y1="316.79" x2="744.35" y2="406.18"/>
<line class="m" x1="744.35" y1="316.79" x2="663.95" y2="406.18"/>
<line class="m" x1="670.48" y1="316.79" x2="750.88" y2="406.18"/>
<line class="m" x1="750.88" y1="316.79" x2="670.48" y2="406.18"/>
<line class="m" x1="677.01" y1="316.79" x2="757.41" y2="406.18"/>
<line class="m" x1="757.41" y1="316.79" x2="677.01" y2="406.18"/>
<line class="m" x1="683.54" y1="316.79" x2="763.94" y2="406.18"/>
<line class="m" x1="763.94" y1="316.79" x2="683.54" y2="406.18"/>
<line class="m" x1="690.08" y1="316.79" x2="770.48" y2="406.18"/>
<line class="m" x1="770.48" y1="316.79" x2="690.08" y2="406.18"/>
<line class="m" x1="696.61" y1="316.79" x2="777.01" y2="406.18"/>
<line class="m" x1="777.01" y1="316.79" x2="696.61" y2="406.18"/>
<line class="m" x1="703.14" y1="316.79" x2="783.54" y2="406.18"/>
<line class="m" x1="783.54" y1="316.79" x2="703.14" y2="406.18"/>
<line class="m" x1="709.67" y1="316.79" x2="790.07" y2="406.18"/>
<line class="m" x1="790.07" y1="316.79" x2="709.67" y2="406.18"/>
<line class="m" x1="716.21" y1="316.79" x2="796.61" y2="406.18"/>
<line class="m" x1="796.61" y1="316.79" x2="716.21" y2="406.18"/>
<line class="m" x1="722.74" y1="316.79" x2="803.14" y2="406.18"/>
<line class="m" x1="803.14" y1="316.79" x2="722.74" y2="406.18"/>
<line class="m" x1="729.27" y1="316.79" x2="809.67" y2="406.18"/>
<line class="m" x1="809.67" y1="316.79" x2="729.27" y2="406.18"/>
</g>
<ellipse class="l" cx="676.81" cy="361.49" rx="32.36" ry="36.21"/>
<line class="l" x1="638.82" y1="362.21" x2="714.8" y2="362.21"/>
<line class="l" x1="676.51" y1="325.38" x2="676.51" y2="397.8"/>
<line class="l" x1="655.91" y1="396.87" x2="655.91" y2="404.63"/>
<line class="l" x1="697.31" y1="396.87" x2="697.31" y2="404.63"/>
<path class="l" d="M 663.04 405.98 Q 669.07 406.29 671.59 409.18 Q 673.34 411.25 673.34 412.91 L 673.34 417.46"/>
<path class="l" d="M 689.98 405.98 Q 686.46 407.11 686.56 410.84 L 686.56 417.46"/>
<path class="l" d="M 673.34 411.46 Q 676.61 413.12 679.93 411.67 Q 683.24 410.22 686.56 411.25"/>
<rect class="l" x="672.09" y="417.46" width="14.57" height="1.86"/>
<rect class="lf" x="651.69" y="404.84" width="4.02" height="7.45" rx="0.8"/>
<rect class="k6" x="652.09" y="415.81" width="3.22" height="3.52"/>
<rect class="k4" x="655.5" y="405.67" width="7.03" height="2.07"/>
<rect class="lf" x="655.3" y="408.15" width="7.44" height="3.31"/>
<line class="lw" x1="655.4" y1="408.15" x2="655.4" y2="411.46"/>
<line class="lw" x1="662.64" y1="408.15" x2="662.64" y2="411.46"/>
<rect class="lf" x="656.11" y="411.46" width="5.83" height="2.69"/>
<path class="k4" d="M656.11 414.15 L661.94 414.15 L664.15 419.32 L655.1 419.32Z"/>
<rect class="k6" x="651.69" y="442.91" width="3.62" height="3.52"/>
<path class="k4" d="M655.5 442.91 L664.35 442.91 L663.14 447.46 L656.71 447.46Z"/>
<rect class="k4" x="653.09" y="447.46" width="3.01" height="9.93"/>
<rect class="lf" x="656.11" y="449.74" width="7.03" height="4.35"/>
<line class="l" x1="656.11" y1="451.91" x2="663.14" y2="451.91"/>
<line class="lw" x1="663.14" y1="449.12" x2="663.14" y2="454.71"/>
<rect class="k4" x="654.3" y="454.91" width="8.04" height="2.69"/>
<rect class="lf" x="697.31" y="404.84" width="4.02" height="7.45" rx="0.8"/>
<rect class="k6" x="697.71" y="415.81" width="3.22" height="3.52"/>
<rect class="k4" x="690.48" y="405.67" width="7.03" height="2.07"/>
<rect class="lf" x="690.28" y="408.15" width="7.44" height="3.31"/>
<line class="lw" x1="697.61" y1="408.15" x2="697.61" y2="411.46"/>
<line class="lw" x1="690.38" y1="408.15" x2="690.38" y2="411.46"/>
<rect class="lf" x="691.08" y="411.46" width="5.83" height="2.69"/>
<path class="k4" d="M696.91 414.15 L691.08 414.15 L688.87 419.32 L697.92 419.32Z"/>
<rect class="k6" x="697.71" y="442.91" width="3.62" height="3.52"/>
<path class="k4" d="M697.51 442.91 L688.67 442.91 L689.88 447.46 L696.31 447.46Z"/>
<rect class="k4" x="696.91" y="447.46" width="3.01" height="9.93"/>
<rect class="lf" x="689.88" y="449.74" width="7.03" height="4.35"/>
<line class="l" x1="696.91" y1="451.91" x2="689.88" y2="451.91"/>
<line class="lw" x1="689.88" y1="449.12" x2="689.88" y2="454.71"/>
<rect class="k4" x="690.68" y="454.91" width="8.04" height="2.69"/>
<rect class="lf" x="650.73" y="419.12" width="51.51" height="23.28"/>
<rect class="kh" x="650.73" y="419.32" width="51.51" height="3.31"/>
<rect class="kh" x="650.73" y="438.67" width="51.51" height="3.93"/>
<line class="t" x1="650.73" y1="424.7" x2="702.24" y2="424.7"/>
<line class="l" x1="650.73" y1="430.08" x2="702.24" y2="430.08"/>
<line class="lw" x1="650.73" y1="431.95" x2="666.56" y2="431.95"/>
<line class="lw" x1="686.66" y1="431.95" x2="702.24" y2="431.95"/>
<line class="t" x1="666.56" y1="431.95" x2="686.66" y2="431.95"/>
<line class="t" x1="650.73" y1="436.7" x2="702.24" y2="436.7"/>
<rect class="lf" x="673.34" y="442.39" width="13.82" height="20.69"/>
<line class="t" x1="675.2" y1="446.02" x2="675.2" y2="463.09"/>
<line class="t" x1="685.25" y1="446.02" x2="685.25" y2="463.09"/>
<path class="l" d="M 675.2 452.43 L 680.13 452.43 Q 682.24 453.88 680.13 455.33 L 675.2 455.33"/>
<line class="t" x1="673.34" y1="459.05" x2="687.16" y2="459.05"/>
<path class="ub" d="M659.12 457.71 L659.12 468.98 L693.69 468.98 L693.69 457.71 L690.48 457.71 L690.48 465.88 L662.34 465.88 L662.34 457.71Z"/>
<line class="t" x1="702.24" y1="423.67" x2="717.11" y2="423.67"/>
<line class="t" x1="702.24" y1="438.67" x2="717.11" y2="438.67"/>
<line class="t" x1="715.4" y1="403.08" x2="715.4" y2="438.67"/>
<path class="a" d="M715.4 423.67 L714.8 426.27 L716 426.27 Z"/>
<path class="a" d="M715.4 438.67 L714.8 436.07 L716 436.07 Z"/>
<text class="dt" font-size="6.2" transform="translate(712.19 411.87) rotate(-90)" x="-7.44" textLength="14.88" lengthAdjust="spacingAndGlyphs" dy="0.35em">ø65H8</text>
<ellipse class="l" cx="728.47" cy="430.81" rx="6.93" ry="8.07"/>
<line class="c2" x1="722.84" y1="430.81" x2="734.4" y2="430.81"/>
<line class="c2" x1="728.77" y1="423.77" x2="728.77" y2="438.26"/>
<line class="l" x1="727.26" y1="438.36" x2="727.26" y2="447.26"/>
<line class="l" x1="730.88" y1="438.36" x2="730.88" y2="447.26"/>
<line class="t" x1="721.63" y1="445.6" x2="741.93" y2="445.6"/>
<path class="a" d="M727.26 445.6 L724.86 445 L724.86 446.2 Z"/>
<path class="a" d="M730.88 445.6 L733.28 445 L733.28 446.2 Z"/>
<text class="dt" font-size="6.2" transform="translate(739.72 449.33) rotate(-90)" x="-2.76" textLength="5.52" lengthAdjust="spacingAndGlyphs" dy="0.35em">18</text>
<line class="t" x1="728.47" y1="422.74" x2="743.94" y2="422.74"/>
<line class="t" x1="732.39" y1="439.5" x2="743.94" y2="439.5"/>
<line class="t" x1="742.44" y1="422.74" x2="742.44" y2="439.5"/>
<path class="a" d="M742.44 422.74 L741.69 425.94 L743.19 425.94 Z"/>
<path class="a" d="M742.44 439.5 L741.69 436.3 L743.19 436.3 Z"/>
<text class="dt" font-size="6.2" transform="translate(739.32 431.01) rotate(-90)" x="-4.83" textLength="9.65" lengthAdjust="spacingAndGlyphs" dy="0.35em">69.4</text>
<line class="t" x1="651.38" y1="460.5" x2="651.38" y2="485.33"/>
<line class="t" x1="702.24" y1="460.5" x2="702.24" y2="485.33"/>
<line class="t" x1="651.38" y1="483.16" x2="702.24" y2="483.16"/>
<path class="a" d="M651.38 483.16 L653.98 482.56 L653.98 483.76 Z"/>
<path class="a" d="M676.51 483.16 L673.91 482.56 L673.91 483.76 Z"/>
<path class="a" d="M676.51 483.16 L679.11 482.56 L679.11 483.76 Z"/>
<path class="a" d="M702.24 483.16 L699.64 482.56 L699.64 483.76 Z"/>
<text class="dt" font-size="6.2" transform="translate(663.34 487.4) rotate(180)" x="-4.14" textLength="8.27" lengthAdjust="spacingAndGlyphs" dy="0.35em">120</text>
<text class="dt" font-size="6.2" transform="translate(689.47 487.4) rotate(180)" x="-4.14" textLength="8.27" lengthAdjust="spacingAndGlyphs" dy="0.35em">120</text>
</svg>
</body>
</html>
